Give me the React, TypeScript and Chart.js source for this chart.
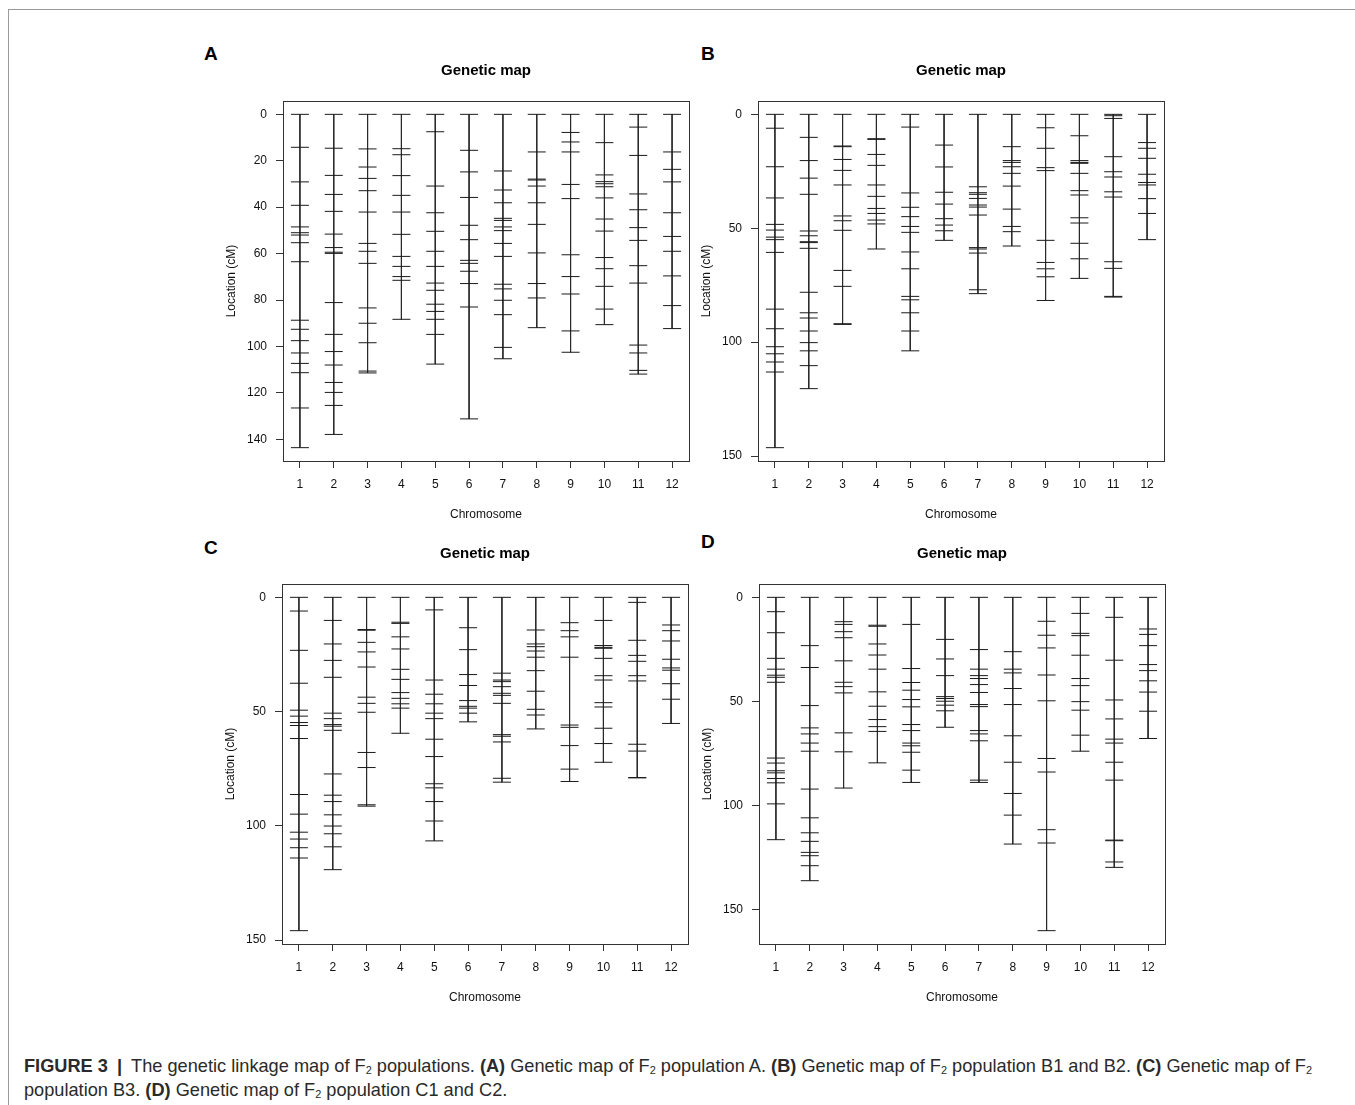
import React, { useEffect, useRef } from "react";
import { Chart, registerables } from "chart.js";

Chart.register(...registerables);

const FONT = "'Liberation Sans', Arial, Helvetica, sans-serif";

const chromosomes = [1, 2, 3, 4, 5, 6, 7, 8, 9, 10, 11, 12];
const ticksA = [0, 20, 40, 60, 80, 100, 120, 140];
const ticks150 = [0, 50, 100, 150];

// Marker positions (cM) per chromosome, panel A
const mapA: number[][] = [
  [0, 14.2, 29.1, 39.2, 48.5, 51.0, 52.0, 55.3, 63.5, 88.7, 92.6, 97.5, 102.8, 107.3, 111.3, 126.5, 143.6],
  [0, 14.6, 26.3, 34.5, 41.8, 51.6, 57.4, 59.4, 59.9, 81.1, 94.8, 102.2, 108.0, 115.5, 119.8, 125.4, 137.9],
  [0, 14.9, 22.7, 27.6, 32.9, 42.1, 55.6, 59.0, 64.2, 83.4, 90.0, 98.4, 110.6, 111.4],
  [0, 14.8, 17.4, 26.4, 34.9, 42.1, 51.7, 61.2, 65.5, 69.9, 71.5, 88.3],
  [0, 7.5, 30.9, 42.4, 50.4, 59.0, 65.5, 72.7, 75.8, 81.8, 84.9, 88.3, 94.8, 107.6],
  [0, 15.5, 24.8, 35.8, 47.8, 54.0, 62.9, 64.2, 67.6, 72.9, 83.0, 131.2],
  [0, 24.4, 32.6, 38.1, 44.8, 45.7, 48.5, 50.1, 55.6, 61.2, 73.2, 75.2, 80.1, 86.3, 100.4, 105.3],
  [0, 16.2, 27.9, 28.3, 30.9, 38.1, 47.4, 59.7, 72.9, 79.1, 91.9],
  [0, 7.8, 11.9, 16.2, 30.2, 36.3, 60.5, 69.9, 77.4, 93.3, 102.5],
  [0, 12.2, 26.1, 29.0, 29.9, 31.2, 36.0, 45.1, 50.3, 61.7, 66.5, 74.1, 83.9, 90.6],
  [0, 5.5, 17.7, 34.3, 41.1, 48.8, 54.3, 65.2, 72.7, 99.4, 102.8, 110.3, 111.9],
  [0, 16.2, 23.7, 29.1, 42.4, 52.6, 59.0, 69.6, 82.4, 92.3],
];

// Panel B
const mapB: number[][] = [
  [0, 6.1, 23.0, 36.7, 48.3, 50.8, 53.9, 55.0, 60.6, 85.5, 94.1, 102.0, 105.1, 108.7, 113.1, 146.3],
  [0, 10.1, 20.3, 28.0, 35.1, 51.2, 53.3, 55.9, 56.3, 58.8, 78.1, 87.1, 89.4, 95.1, 100.2, 103.8, 110.3, 120.4],
  [0, 13.9, 14.2, 19.8, 24.6, 31.0, 44.6, 46.7, 50.9, 68.5, 75.5, 91.9, 92.2],
  [0, 10.7, 11.0, 17.6, 22.4, 31.0, 36.0, 41.3, 43.5, 46.4, 48.1, 59.1],
  [0, 5.6, 34.5, 40.8, 44.9, 49.2, 51.8, 60.4, 67.8, 79.9, 81.4, 87.1, 95.1, 103.8],
  [0, 13.5, 23.1, 34.2, 39.4, 45.8, 48.6, 51.1, 55.3],
  [0, 31.8, 34.4, 35.1, 36.9, 39.8, 40.7, 44.2, 58.5, 59.1, 60.9, 77.0, 78.7],
  [0, 14.2, 20.3, 21.1, 23.0, 25.9, 31.5, 41.6, 49.2, 51.5, 57.8],
  [0, 5.9, 14.9, 23.4, 24.7, 55.3, 65.0, 67.8, 71.3, 81.7],
  [0, 9.4, 20.3, 21.1, 21.5, 25.9, 33.5, 35.4, 45.4, 47.7, 56.6, 63.4, 72.0],
  [0, 0.6, 1.8, 18.6, 25.2, 27.5, 34.0, 36.3, 64.7, 67.6, 79.9, 80.2],
  [0, 12.4, 14.9, 19.3, 26.3, 29.9, 31.0, 37.0, 43.5, 55.0],
];

// Panel C
const mapC: number[][] = [
  [0, 6.0, 23.2, 37.6, 49.4, 52.0, 54.8, 56.1, 61.8, 86.3, 94.9, 102.8, 105.8, 109.6, 114.1, 145.9],
  [0, 10.1, 20.4, 27.6, 35.0, 50.7, 53.1, 55.7, 56.4, 58.2, 77.3, 86.6, 89.4, 95.2, 100.1, 103.5, 109.2, 119.2],
  [0, 14.1, 14.4, 19.7, 23.9, 30.5, 43.7, 46.4, 50.3, 67.9, 74.5, 90.8, 91.4],
  [0, 10.9, 11.4, 17.3, 22.6, 31.5, 35.9, 41.7, 44.2, 46.6, 48.5, 59.5],
  [0, 5.5, 36.2, 42.4, 46.6, 50.7, 53.1, 62.1, 69.7, 81.6, 83.4, 89.4, 97.9, 106.6],
  [0, 13.3, 22.9, 33.8, 38.6, 45.2, 47.7, 48.5, 50.7, 54.5],
  [0, 33.2, 36.2, 36.9, 39.1, 42.0, 42.9, 46.4, 60.1, 60.8, 63.3, 79.2, 80.9],
  [0, 14.3, 20.4, 21.6, 23.5, 26.2, 32.1, 41.1, 49.0, 51.5, 57.6],
  [0, 11.1, 14.6, 17.3, 26.2, 55.9, 56.9, 64.9, 75.2, 80.6],
  [0, 10.1, 21.1, 21.9, 22.3, 26.7, 34.3, 36.2, 46.1, 48.0, 57.3, 64.0, 72.2],
  [0, 2.2, 18.8, 25.4, 28.0, 34.3, 36.6, 64.3, 67.3, 78.9, 79.0],
  [0, 12.1, 14.6, 19.1, 27.1, 30.9, 31.9, 37.8, 44.6, 55.2],
];

// Panel D
const mapD: number[][] = [
  [0, 6.9, 17.0, 29.3, 34.5, 37.4, 38.4, 40.8, 77.2, 79.6, 83.3, 84.3, 87.0, 89.1, 99.2, 116.4],
  [0, 23.2, 33.7, 52.0, 62.7, 65.6, 70.0, 73.9, 92.1, 105.9, 113.1, 117.2, 122.5, 124.1, 128.9, 136.1],
  [0, 11.7, 13.0, 16.5, 19.4, 30.5, 40.8, 42.9, 45.9, 65.1, 74.2, 91.6],
  [0, 13.4, 13.9, 22.4, 27.7, 34.5, 45.4, 52.3, 58.7, 62.1, 64.4, 79.5],
  [0, 13.0, 34.2, 40.9, 44.6, 49.1, 52.6, 61.1, 64.0, 70.0, 71.3, 74.4, 83.0, 88.9],
  [0, 20.2, 29.6, 37.6, 47.7, 48.6, 49.9, 51.8, 54.5, 62.4],
  [0, 25.1, 34.5, 37.6, 39.0, 41.9, 45.7, 51.5, 52.5, 64.0, 65.6, 68.9, 87.8, 88.9],
  [0, 26.1, 34.5, 36.3, 43.8, 51.5, 66.5, 79.2, 94.2, 104.6, 118.5],
  [0, 11.5, 18.2, 24.3, 37.3, 49.7, 77.4, 83.9, 111.6, 118.0, 160.1],
  [0, 7.7, 17.3, 18.4, 27.8, 39.0, 42.4, 50.1, 54.2, 66.2, 73.9],
  [0, 9.6, 30.2, 49.3, 58.4, 68.1, 70.0, 79.2, 87.8, 116.6, 116.9, 127.1, 129.7],
  [0, 15.2, 17.8, 23.2, 32.3, 35.2, 40.1, 45.5, 54.7, 67.8],
];

const boxPlugin = {
  id: "rbox",
  afterDraw(chart: any) {
    const { ctx, chartArea } = chart;
    ctx.save();
    ctx.strokeStyle = "#333";
    ctx.lineWidth = 1;
    ctx.strokeRect(
      Math.round(chartArea.left) + 0.5,
      Math.round(chartArea.top) + 0.5,
      Math.round(chartArea.right - chartArea.left),
      Math.round(chartArea.bottom - chartArea.top)
    );
    ctx.restore();
  },
};

const Y_W = 90;
const TOP_H = 70;
const BOTTOM_H = 70;
const RIGHT_PAD = 20;
const AREA_W = 406;
const AREA_H = 360;

function GeneticMap(props: { data: number[][]; yTicks: number[]; left: number; top: number }) {
  const ref = useRef<HTMLCanvasElement>(null);
  const { data, yTicks, left, top } = props;
  useEffect(() => {
    if (!ref.current) return;
    const maxV = Math.max(...data.map((c) => c[c.length - 1]));
    const pad = maxV * 0.04;
    const datasets = data.map((markers, i) => ({
      data: markers.map((v) => ({ x: chromosomes[i], y: v })),
      showLine: true,
      borderColor: "#2a2a2a",
      borderWidth: 1,
      pointStyle: "line" as const,
      pointRadius: 9,
      pointHoverRadius: 9,
      pointBorderColor: "#1a1a1a",
      pointBackgroundColor: "#1a1a1a",
      pointBorderWidth: 1,
    }));
    const tickFont = { family: FONT, size: 12 };
    const chart = new Chart(ref.current, {
      type: "scatter",
      data: { datasets },
      plugins: [boxPlugin],
      options: {
        animation: false,
        responsive: false,
        events: [],
        layout: { padding: { left: 0, right: RIGHT_PAD, top: 0, bottom: 0 } },
        plugins: {
          legend: { display: false },
          tooltip: { enabled: false },
          title: {
            display: true,
            text: "Genetic map",
            fullSize: false,
            color: "#000",
            font: { family: FONT, size: 15, weight: "bold" },
            padding: { top: 31, bottom: 21 },
          },
        },
        scales: {
          x: {
            type: "linear",
            min: 0.5,
            max: 12.5,
            afterBuildTicks: (s: any) => {
              s.ticks = chromosomes.map((v) => ({ value: v }));
            },
            afterFit: (s: any) => {
              s.height = BOTTOM_H;
            },
            ticks: {
              font: tickFont,
              color: "#111",
              padding: 9,
              maxRotation: 0,
              autoSkip: false,
              callback: (v: any) => String(v),
            },
            grid: { drawOnChartArea: false, drawTicks: true, tickLength: 7, color: "#333" },
            border: { display: false },
            title: {
              display: true,
              text: "Chromosome",
              color: "#111",
              font: tickFont,
              padding: { top: 0, bottom: 9 },
            },
          },
          y: {
            type: "linear",
            reverse: true,
            min: -pad,
            max: maxV + pad,
            afterBuildTicks: (s: any) => {
              s.ticks = yTicks.map((v) => ({ value: v }));
            },
            afterFit: (s: any) => {
              s.width = Y_W;
            },
            ticks: {
              font: tickFont,
              color: "#111",
              padding: 9,
              autoSkip: false,
              callback: (v: any) => String(v),
            },
            grid: { drawOnChartArea: false, drawTicks: true, tickLength: 7, color: "#333" },
            border: { display: false },
            title: {
              display: true,
              text: "Location (cM)",
              color: "#111",
              font: tickFont,
              padding: { top: 31, bottom: 0 },
            },
          },
        },
      } as any,
    });
    return () => chart.destroy();
  }, [data, yTicks]);
  return (
    <canvas
      ref={ref}
      width={Y_W + AREA_W + RIGHT_PAD}
      height={TOP_H + AREA_H + BOTTOM_H}
      style={{
        position: "absolute",
        left: left - Y_W,
        top: top - TOP_H,
        width: Y_W + AREA_W + RIGHT_PAD,
        height: TOP_H + AREA_H + BOTTOM_H,
      }}
    />
  );
}

const letterStyle = (x: number, y: number): React.CSSProperties => ({
  position: "absolute",
  left: x,
  top: y,
  fontFamily: FONT,
  fontWeight: "bold",
  fontSize: 19,
  lineHeight: "22px",
  color: "#000",
});

const sub: React.CSSProperties = {
  fontSize: "0.6em",
  lineHeight: 0,
  position: "relative",
  top: "0.2em",
};

export default function App() {
  return (
    <div
      style={{
        position: "absolute",
        left: 0,
        top: 0,
        width: 1355,
        height: 1105,
        background: "#fff",
        overflow: "hidden",
      }}
    >
      <div
        style={{
          position: "absolute",
          left: 8,
          top: 9,
          width: 1360,
          height: 1110,
          borderTop: "1px solid #9a9a9a",
          borderLeft: "1px solid #9a9a9a",
        }}
      />
      <div style={letterStyle(204, 43)}>A</div>
      <div style={letterStyle(701, 43)}>B</div>
      <div style={letterStyle(204, 537)}>C</div>
      <div style={letterStyle(701, 531)}>D</div>
      <GeneticMap data={mapA} yTicks={ticksA} left={283} top={101} />
      <GeneticMap data={mapB} yTicks={ticks150} left={758} top={101} />
      <GeneticMap data={mapC} yTicks={ticks150} left={282} top={584} />
      <GeneticMap data={mapD} yTicks={ticks150} left={759} top={584} />
      <div
        style={{
          position: "absolute",
          left: 24,
          top: 1054,
          fontFamily: FONT,
          fontSize: 18.2,
          lineHeight: "24px",
          color: "#2a2a2a",
          whiteSpace: "nowrap",
        }}
      >
        <b>FIGURE 3</b>
        <b style={{ margin: "0 4px" }}> | </b>
        The genetic linkage map of F<span style={sub}>2</span> populations. <b>(A)</b> Genetic map of F
        <span style={sub}>2</span> population A. <b>(B)</b> Genetic map of F<span style={sub}>2</span> population
        B1 and B2. <b>(C)</b> Genetic map of F<span style={sub}>2</span>
        <br />
        population B3. <b>(D)</b> Genetic map of F<span style={sub}>2</span> population C1 and C2.
      </div>
    </div>
  );
}
